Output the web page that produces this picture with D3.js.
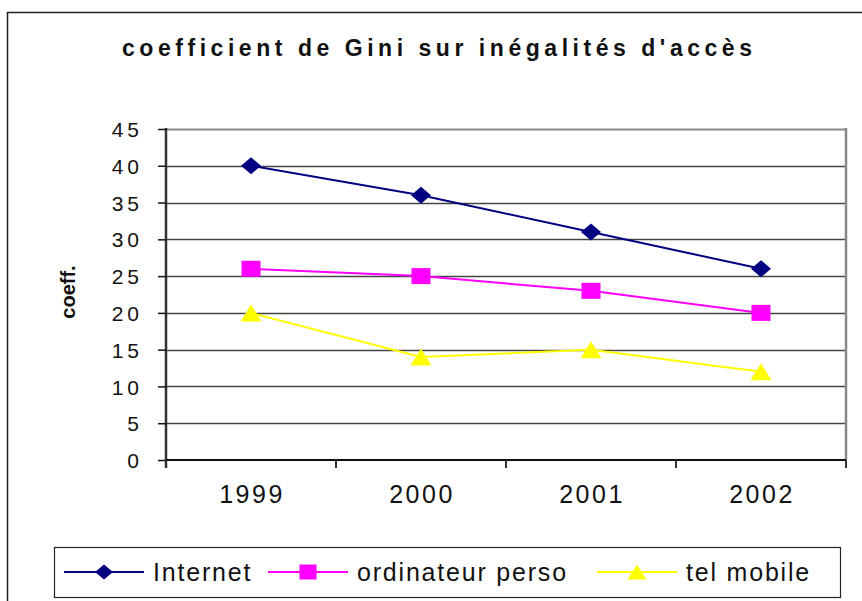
<!DOCTYPE html>
<html>
<head>
<meta charset="utf-8">
<script src="https://cdn.jsdelivr.net/npm/d3@7"></script>
<style>
  html, body { margin: 0; padding: 0; background: #fff; }
  svg { display: block; font-family: "Liberation Sans", Arial, sans-serif; }
</style>
</head>
<body>
<svg id="chart" width="862" height="601"></svg>
<script>
// Gini coefficient of access inequality, by year
const years = ["1999", "2000", "2001", "2002"];
const internet = [40, 36, 31, 26];
const ordinateur = [26, 25, 23, 20];
const telMobile = [20, 14, 15, 12];
const yTicks = [0, 5, 10, 15, 20, 25, 30, 35, 40, 45];

const series = [
  { name: "Internet", values: internet, color: "#000080", shape: "diamond" },
  { name: "ordinateur perso", values: ordinateur, color: "#FF00FF", shape: "square" },
  { name: "tel mobile", values: telMobile, color: "#FFFF00", shape: "triangle" }
];

const svg = d3.select("#chart");
const W = 862, H = 601;
const plot = { left: 166, right: 846, top: 129, bottom: 460 };

// outer chart frame
svg.append("rect")
  .attr("x", 7.5).attr("y", 12.5)
  .attr("width", W + 10).attr("height", H + 10)
  .attr("fill", "#fff").attr("stroke", "#222").attr("stroke-width", 1.5);

// title
svg.append("text")
  .attr("x", 122).attr("y", 56)
  .attr("textLength", 630).attr("lengthAdjust", "spacing")
  .attr("font-size", 23).attr("font-weight", "bold").attr("fill", "#111")
  .text("coefficient de Gini sur inégalités d'accès");

const x = d3.scaleBand().domain(years).range([plot.left, plot.right]);
const y = d3.scaleLinear().domain([0, 45]).range([plot.bottom, plot.top]);

// horizontal gridlines
svg.append("g").selectAll("line").data(yTicks.filter(t => t > 0)).join("line")
  .attr("x1", plot.left).attr("x2", plot.right)
  .attr("y1", d => Math.round(y(d)) + 0.5).attr("y2", d => Math.round(y(d)) + 0.5)
  .attr("stroke", d => d === 45 ? "#888" : "#444").attr("stroke-width", d => d === 45 ? 2 : 1.3);

// right border of plot area
svg.append("line")
  .attr("x1", plot.right).attr("x2", plot.right)
  .attr("y1", plot.top - 1).attr("y2", plot.bottom)
  .attr("stroke", "#888").attr("stroke-width", 2.5);

// y axis
const yAxis = d3.axisLeft(y).tickValues(yTicks).tickSize(8).tickPadding(15);
const gy = svg.append("g").attr("transform", `translate(${plot.left},0)`).call(yAxis);
gy.select(".domain").attr("stroke", "#333").attr("stroke-width", 2.5)
  .attr("d", `M0,${plot.top - 1}V${plot.bottom + 8}`);
gy.selectAll(".tick line").attr("stroke", "#111").attr("stroke-width", 1.5);
gy.selectAll(".tick text")
  .attr("font-size", 21).attr("fill", "#111")
  .attr("font-family", "'Liberation Sans', Arial, sans-serif")
  .style("letter-spacing", "4px").attr("dy", "0.36em");

// x axis, with ticks at the category boundaries
const gx = svg.append("g").attr("transform", `translate(0,${plot.bottom})`);
gx.append("line").attr("x1", plot.left).attr("x2", plot.right)
  .attr("stroke", "#111").attr("stroke-width", 2);
const bounds = years.map(d => x(d)).concat([x(years[years.length - 1]) + x.bandwidth()]);
gx.selectAll("line.tk").data(bounds).join("line").attr("class", "tk")
  .attr("x1", d => d).attr("x2", d => d).attr("y1", 0).attr("y2", 8)
  .attr("stroke", "#333").attr("stroke-width", 2);
gx.selectAll("text").data(years).join("text")
  .attr("x", d => x(d) + x.bandwidth() / 2 + 1).attr("y", 43)
  .attr("text-anchor", "middle").attr("font-size", 25).attr("fill", "#111")
  .style("letter-spacing", "2.5px")
  .text(d => d);

// y axis title
svg.append("text")
  .attr("transform", "translate(75,292) rotate(-90)")
  .attr("text-anchor", "middle").attr("font-size", 20).attr("font-weight", "bold")
  .attr("fill", "#111")
  .text("coeff.");

// marker shapes
function marker(sel, shape, color, w, h) {
  if (shape === "diamond") {
    sel.append("path").attr("d", `M0,${-h/2}L${w/2},0L0,${h/2}L${-w/2},0Z`).attr("fill", color);
  } else if (shape === "square") {
    sel.append("rect").attr("x", -w/2).attr("y", -h/2).attr("width", w).attr("height", h).attr("fill", color);
  } else {
    sel.append("path").attr("d", `M0,${-h/2}L${w/2},${h/2}L${-w/2},${h/2}Z`).attr("fill", color);
  }
}

const line = d3.line().x((d, i) => x(years[i]) + x.bandwidth() / 2).y(d => y(d));

series.forEach(s => {
  svg.append("path").datum(s.values)
    .attr("d", line).attr("fill", "none")
    .attr("stroke", s.color).attr("stroke-width", 2);
  s.values.forEach((v, i) => {
    const g = svg.append("g")
      .attr("transform", `translate(${x(years[i]) + x.bandwidth() / 2},${y(v)})`);
    const dims = { diamond: [20, 17], square: [19, 16], triangle: [21, 17] }[s.shape];
    marker(g, s.shape, s.color, dims[0], dims[1]);
  });
});

// legend
const lg = svg.append("g");
lg.append("rect").attr("x", 54.5).attr("y", 547.5).attr("width", 786).attr("height", 50)
  .attr("fill", "#fff").attr("stroke", "#222").attr("stroke-width", 1.2);
const legendX = [64, 268, 597];
series.forEach((s, i) => {
  const g = lg.append("g").attr("transform", `translate(${legendX[i]},572)`);
  g.append("line").attr("x1", 0).attr("x2", 80).attr("stroke", s.color).attr("stroke-width", 2);
  const mg = g.append("g").attr("transform", "translate(40,0)");
  const dims = { diamond: [18, 15], square: [17, 15], triangle: [19, 15] }[s.shape];
  marker(mg, s.shape, s.color, dims[0], dims[1]);
  g.append("text").attr("x", 89).attr("y", 9)
    .attr("font-size", 25).attr("fill", "#111")
    .style("letter-spacing", "1.8px")
    .text(s.name);
});
</script>
</body>
</html>
